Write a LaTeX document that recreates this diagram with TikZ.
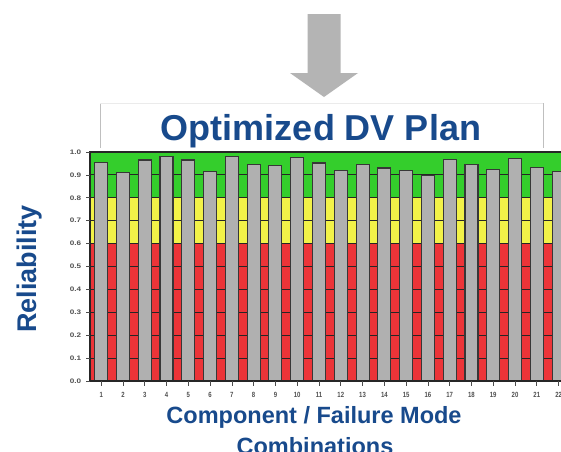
\documentclass[tikz,border=0pt]{standalone}
\usepackage{fontspec}
\setmainfont{Liberation Sans}
\definecolor{dvblue}{RGB}{24,74,140}
\definecolor{arrowgray}{RGB}{180,180,180}
\definecolor{bandgreen}{RGB}{52,206,44}
\definecolor{bandyellow}{RGB}{242,242,72}
\definecolor{bandred}{RGB}{236,52,56}
\definecolor{barfill}{RGB}{176,176,176}
\definecolor{baredge}{RGB}{55,55,55}
\definecolor{ticktext}{RGB}{80,80,80}
\tikzset{
  bigtext/.style={font=\bfseries\fontsize{36}{40}\selectfont, text=dvblue, inner sep=0pt},
  axtitle/.style={font=\bfseries\fontsize{23.5}{26}\selectfont, text=dvblue, inner sep=0pt},
  ylab/.style={font=\bfseries\fontsize{27}{30}\selectfont, text=dvblue, inner sep=0pt},
  yticklab/.style={font=\bfseries\fontsize{6.5}{7}\selectfont, text=ticktext, inner sep=0pt, xscale=1.25},
  xticklab/.style={font=\bfseries\fontsize{7.5}{8}\selectfont, text=ticktext, inner sep=0pt, xscale=0.8},
  barstyle/.style={fill=barfill, draw=baredge, line width=1.1pt},
  gridstyle/.style={draw=black!85, line width=1.1pt},
  boxline/.style={draw=black!25, line width=0.6pt}
}
\begin{document}
\begin{tikzpicture}[x=1pt,y=-1pt]
\useasboundingbox (0,0) rectangle (561,451);
\fill[white] (0,0) rectangle (561,451);
% block arrow
\fill[arrowgray] (307.5,14) -- (340.5,14) -- (340.5,73) -- (358,73) -- (324,97) -- (290,73) -- (307.5,73) -- cycle;
% title box
\fill[white] (100,103) rectangle (543,149);
\draw[boxline] (100,103) -- (100,148);
\draw[boxline] (543,103) -- (543,148);
\draw[draw=black!8, line width=0.5pt] (100,103) -- (543,103);
\node[bigtext, anchor=base] (title) at (321,140) {Optimized DV Plan};
% plot
\begin{scope}
\clip (88,150) rectangle (561,383);
\fill[bandred] (90,381) rectangle (562,243.6);
\fill[bandyellow] (90,243.6) rectangle (562,197.8);
\fill[bandgreen] (90,197.8) rectangle (562,152);
\foreach \k in {1,...,9} {
  \draw[gridstyle] (90,381-22.9*\k) -- (562,381-22.9*\k);
}
\foreach \v [count=\i] in {0.956,0.911,0.965,0.981,0.965,0.914,0.980,0.947,0.940,0.977,0.952,0.918,0.947,0.930,0.921,0.897,0.968,0.945,0.923,0.972,0.933,0.914} {
  \pgfmathsetmacro{\xc}{101.2+21.78*(\i-1)}
  \draw[barstyle] (\xc-6.5,381) rectangle (\xc+6.5,381-229*\v);
}
\end{scope}
% frame
\draw[black!85, line width=1.1pt] (562,152) -- (90,152) -- (90,381) -- (562,381);
% y ticks and labels
\foreach \k/\t in {0/0.0,1/0.1,2/0.2,3/0.3,4/0.4,5/0.5,6/0.6,7/0.7,8/0.8,9/0.9,10/1.0} {
  \draw[black!70, line width=0.7pt] (86,381-22.9*\k) -- (90,381-22.9*\k);
  \node[yticklab, anchor=east] (yt\k) at (81.5,381-22.9*\k) {\t};
}
% x ticks and labels
\foreach \i in {1,...,22} {
  \pgfmathsetmacro{\xc}{101.2+21.78*(\i-1)}
  \draw[black!70, line width=0.7pt] (\xc,381) -- (\xc,386);
  \node[xticklab] (xt\i) at (\xc,394.5) {\i};
}
% axis titles
\node[ylab, rotate=90, anchor=base] (ytitle) at (36,269) {Reliability};
\node[axtitle, anchor=base] (xtitle1) at (314,423) {Component / Failure Mode};
\node[axtitle, anchor=base] (xtitle2) at (315,454.5) {Combinations};
\end{tikzpicture}
\end{document}
